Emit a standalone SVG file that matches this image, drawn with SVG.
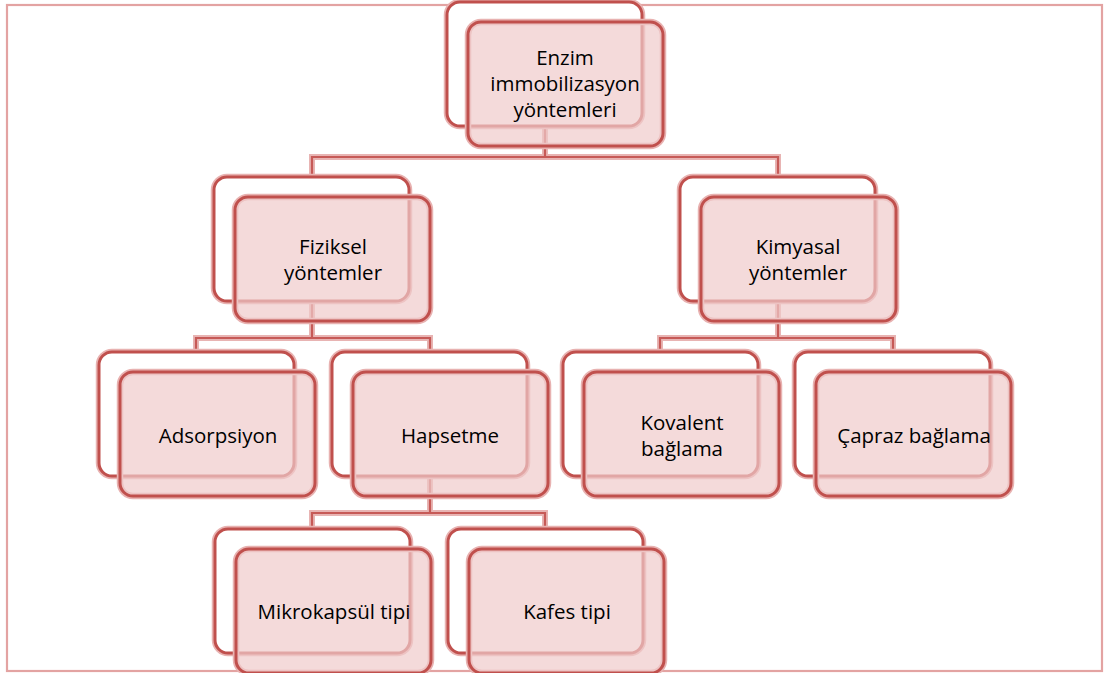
<svg xmlns="http://www.w3.org/2000/svg" xmlns:xlink="http://www.w3.org/1999/xlink" width="1104" height="673" viewBox="0 0 1104 673">
<style>
.frame{fill:none;stroke:#E3A3A2;stroke-width:2.2}
.halo{fill:none;stroke:#E8B2B1;stroke-width:6.5}
.core{fill:none;stroke:#C0504D;stroke-width:3}
.back{fill:#FFFFFF}
.front{fill:#EFCBCB;fill-opacity:0.7}
.chalo{fill:none;stroke:#E8B4B3;stroke-width:6}
.ccore{fill:none;stroke:#C65A57;stroke-width:2.2}
text{font-family:"Open Sans","Liberation Sans",sans-serif;font-size:20.5px;fill:#000;text-anchor:middle}
</style>
<defs>
<rect id="r" width="195" height="124" rx="13" ry="13"/>
<g id="node">
<use xlink:href="#r" class="halo"/>
<use xlink:href="#r" class="back"/>
<use xlink:href="#r" class="core"/>
<use xlink:href="#r" x="21" y="20" class="halo"/>
<use xlink:href="#r" x="21" y="20" class="front"/>
<use xlink:href="#r" x="21" y="20" class="core"/>
</g>
</defs>
<rect class="frame" x="7" y="5" width="1095" height="666"/>
<g id="connectors">
<path class="chalo" d="M545 125V157M312 177V157H778V177M312 301V338M196 352V338H430V352M430 476V513M312 529V513H545V529M778 301V338M660 352V338H893V352"/>
<path class="ccore" d="M545 125V157M312 177V157H778V177M312 301V338M196 352V338H430V352M430 476V513M312 529V513H545V529M778 301V338M660 352V338H893V352"/>
</g>
<g id="n-enzim">
<use xlink:href="#node" x="447" y="2"/>
<text x="565" y="65">Enzim</text>
<text x="565" y="91">immobilizasyon</text>
<text x="565" y="117">yöntemleri</text>
</g>
<g id="n-fiziksel">
<use xlink:href="#node" x="214" y="177"/>
<text x="333" y="254">Fiziksel</text>
<text x="333" y="280">yöntemler</text>
</g>
<g id="n-kimyasal">
<use xlink:href="#node" x="680" y="177"/>
<text x="798" y="254">Kimyasal</text>
<text x="798" y="280">yöntemler</text>
</g>
<g id="n-adsorpsiyon">
<use xlink:href="#node" x="99" y="352"/>
<text x="218" y="443">Adsorpsiyon</text>
</g>
<g id="n-hapsetme">
<use xlink:href="#node" x="332" y="352"/>
<text x="450" y="443">Hapsetme</text>
</g>
<g id="n-kovalent">
<use xlink:href="#node" x="563" y="352"/>
<text x="682" y="430">Kovalent</text>
<text x="682" y="456">bağlama</text>
</g>
<g id="n-capraz">
<use xlink:href="#node" x="795" y="352"/>
<text x="914" y="443">Çapraz bağlama</text>
</g>
<g id="n-mikrokapsul">
<use xlink:href="#node" x="215" y="529"/>
<text x="334" y="619">Mikrokapsül tipi</text>
</g>
<g id="n-kafes">
<use xlink:href="#node" x="448" y="529"/>
<text x="567" y="619">Kafes tipi</text>
</g>
</svg>
